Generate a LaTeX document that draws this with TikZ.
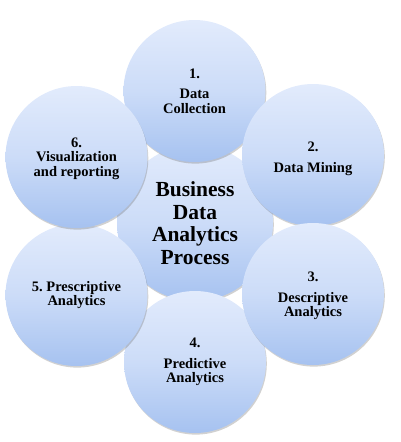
\documentclass[tikz,border=0pt]{standalone}
\usepackage{fontspec}
\setmainfont{Liberation Serif}
\usetikzlibrary{shadows}
\definecolor{ctop}{HTML}{E2EBFC}
\definecolor{cmid}{HTML}{CCDCF8}
\definecolor{cbot}{HTML}{A6C2F0}
\tikzset{
  bubble/.style={circle, minimum size=142pt, inner sep=0pt, align=center,
    top color=ctop, bottom color=cbot, middle color=cmid,
    drop shadow={shadow xshift=0.8pt, shadow yshift=-1.6pt, opacity=0.3, fill=black!60},
    font=\fontsize{14.5}{14.5}\selectfont\bfseries},
  bubbletext/.style={align=center, inner sep=0pt,
    font=\fontsize{14.5}{14.5}\selectfont\bfseries},
  hub/.style={bubble, minimum size=156pt,
    font=\fontsize{21.5}{22.5}\selectfont\bfseries}
}
\begin{document}
\begin{tikzpicture}[x=1pt,y=-1pt]
\useasboundingbox (0,0) rectangle (401,442);
\node[hub] (hub) at (195,223) {Business\\Data\\Analytics\\Process};
\node[bubble] (c1) at (194.5,91) {1.\\[6pt]Data\\Collection};
\node[bubble] (c4) at (195,362) {4.\\[6pt]Predictive\\Analytics};
\node[bubble] (c2) at (313,155) {};
\node[bubbletext] (t2) at ([yshift=-4pt]c2.center) {2.\\[6pt]Data Mining};
\node[bubble] (c5) at (76.5,295) {5.\ Prescriptive\\Analytics};
\node[bubble] (c3) at (313,294) {};
\node[bubbletext] (t3) at ([yshift=-2pt]c3.center) {3.\\[6pt]Descriptive\\Analytics};
\node[bubble] (c6) at (76.5,157) {};
\node[bubbletext] (t6) at ([yshift=-1.5pt]c6.center) {6.\\Visualization\\and reporting};
\end{tikzpicture}
\end{document}
